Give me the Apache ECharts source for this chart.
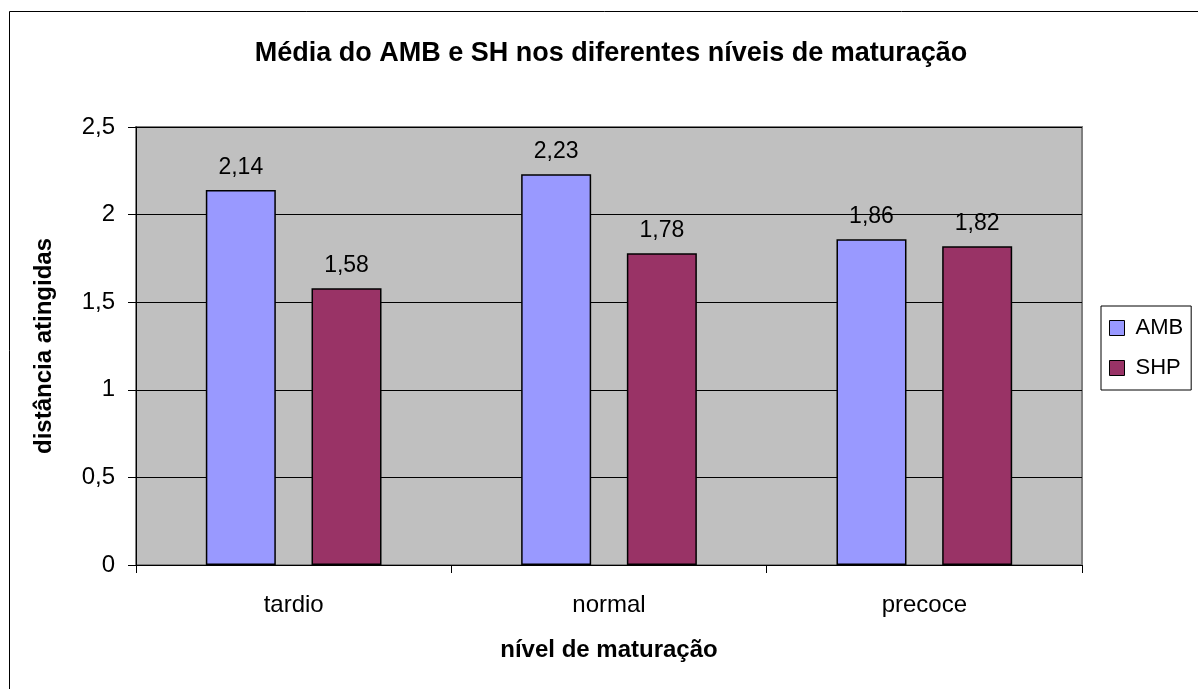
<!DOCTYPE html>
<html>
<head>
<meta charset="utf-8">
<script src="https://cdn.jsdelivr.net/npm/echarts@6/dist/echarts.min.js"></script>
<style>
html,body{margin:0;padding:0;background:#fff;}
#c{width:1198px;height:689px;}
</style>
</head>
<body>
<div id="c"></div>
<script>
const categories = ['tardio', 'normal', 'precoce'];
const seriesNames = ['AMB', 'SHP'];
const ambValues = [2.14, 2.23, 1.86];
const shpValues = [1.58, 1.78, 1.82];
const yTicks = { min: 0, max: 2.5, interval: 0.5 };

const FONT = '"Liberation Sans", Arial, sans-serif';
const fmt = v => String(v).replace('.', ',');

const chart = echarts.init(document.getElementById('c'));
chart.setOption({
  animation: false,
  backgroundColor: '#fff',
  textStyle: { fontFamily: FONT, color: '#000' },
  title: {
    text: 'Média do AMB e SH nos diferentes níveis de maturação',
    left: 606, top: 35, textAlign: 'center',
    textStyle: { fontFamily: FONT, fontSize: 27, fontWeight: 'bold', color: '#000' }
  },
  grid: {
    left: 136, top: 127, right: 116, bottom: 124,
    show: true, backgroundColor: '#C0C0C0', borderColor: '#808080', borderWidth: 2
  },
  legend: {
    orient: 'vertical', left: 1101, top: 306,
    padding: [10, 8, 10, 8], itemGap: 16,
    itemWidth: 15, itemHeight: 15, icon: 'rect',
    itemStyle: { borderColor: '#000', borderWidth: 1 },
    borderColor: '#000', borderWidth: 1, backgroundColor: '#fff',
    textStyle: { fontFamily: FONT, fontSize: 22, lineHeight: 24, color: '#000', padding: [0, 0, 0, 6] },
    data: seriesNames
  },
  xAxis: {
    type: 'category', data: categories,
    axisLine: { lineStyle: { color: '#000', width: 1 } },
    axisTick: { show: true, length: 8, lineStyle: { color: '#000' } },
    axisLabel: { fontFamily: FONT, fontSize: 24, color: '#000', margin: 28 },
    name: 'nível de maturação', nameLocation: 'middle', nameGap: 73,
    nameTextStyle: { fontFamily: FONT, fontSize: 24, fontWeight: 'bold', color: '#000' }
  },
  yAxis: {
    type: 'value', min: yTicks.min, max: yTicks.max, interval: yTicks.interval,
    axisLine: { show: true, lineStyle: { color: '#000', width: 1 } },
    axisTick: { show: true, length: 8, lineStyle: { color: '#000' } },
    axisLabel: { fontFamily: FONT, fontSize: 24, color: '#000', margin: 21, formatter: fmt },
    splitLine: { show: true, lineStyle: { color: '#000', width: 1 } },
    name: 'distância atingidas', nameLocation: 'middle', nameGap: 80,
    nameTextStyle: { fontFamily: FONT, fontSize: 24, fontWeight: 'bold', color: '#000' }
  },
  series: [
    {
      name: seriesNames[0], type: 'bar', data: ambValues, barWidth: 70, barGap: '51%',
      itemStyle: { color: '#9999FF', borderColor: '#000', borderWidth: 1.5 },
      label: { show: true, position: 'top', distance: 11, formatter: p => fmt(p.value),
        fontFamily: FONT, fontSize: 23, color: '#000' }
    },
    {
      name: seriesNames[1], type: 'bar', data: shpValues, barWidth: 70, barGap: '51%',
      itemStyle: { color: '#993366', borderColor: '#000', borderWidth: 1.5 },
      label: { show: true, position: 'top', distance: 11, formatter: p => fmt(p.value),
        fontFamily: FONT, fontSize: 23, color: '#000' }
    }
  ],
  graphic: [{
    type: 'rect', shape: { x: 9.5, y: 11.5, width: 1400, height: 900 },
    style: { fill: 'none', stroke: '#000', lineWidth: 1 }, silent: true, z: 100
  }]
});
</script>
</body>
</html>
